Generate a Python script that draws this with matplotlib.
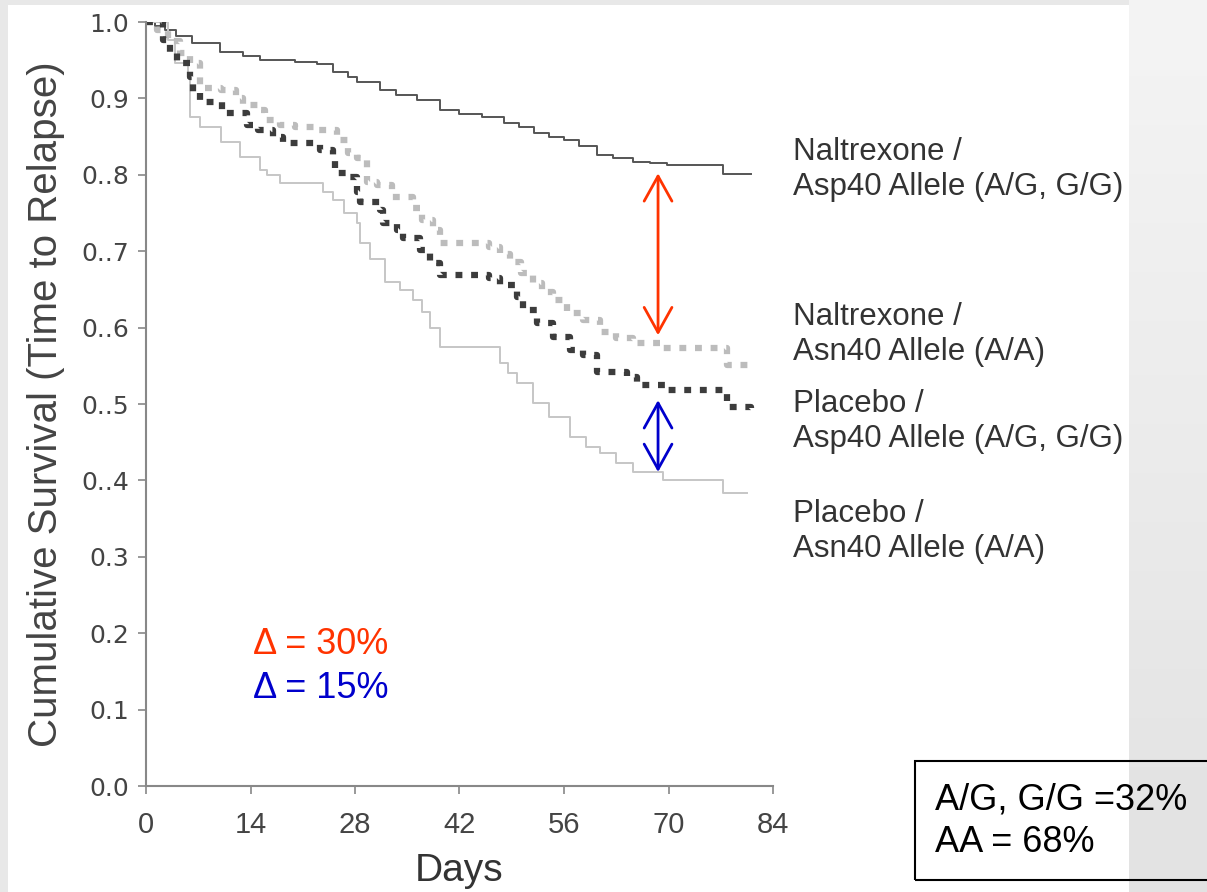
import numpy as np
import matplotlib.pyplot as plt
from matplotlib.patches import Rectangle

# Kaplan-Meier style curves (step change points)
nal_asp_days = [0, 1.2, 2.5, 4, 6.2, 9.9, 13, 15.3, 20, 22.9, 25, 27, 28.3, 31.3, 33.5, 36.3,
                39.4, 42, 45, 48, 50, 52, 54, 56, 58, 60.4, 62.5, 65.2, 67.5, 69.8, 77.3, 81]
nal_asp_surv = [1.0, 0.995, 0.99, 0.982, 0.973, 0.961, 0.955, 0.950, 0.948, 0.945, 0.935, 0.928,
                0.921, 0.911, 0.905, 0.898, 0.885, 0.880, 0.876, 0.868, 0.862, 0.855, 0.850,
                0.846, 0.838, 0.826, 0.822, 0.817, 0.815, 0.813, 0.801, 0.801]

nal_asn_days = [0, 1.5, 3, 4.5, 5.9, 7.2, 10, 12, 13, 15, 16, 18, 20, 23, 25.6, 27, 28.3, 29.6,
                31, 33, 35.8, 37, 38.5, 39.4, 46, 47.4, 48.8, 50.3, 51.8, 53, 54.5, 56.4, 58.5,
                60.8, 63, 65.2, 69.3, 77.8, 81]
nal_asn_surv = [1.0, 0.99, 0.975, 0.96, 0.946, 0.914, 0.911, 0.900, 0.891, 0.885, 0.872, 0.865,
                0.863, 0.859, 0.846, 0.829, 0.822, 0.790, 0.787, 0.771, 0.757, 0.741, 0.728,
                0.711, 0.705, 0.696, 0.686, 0.672, 0.658, 0.646, 0.636, 0.619, 0.610, 0.594,
                0.587, 0.580, 0.573, 0.551, 0.548]

pla_asp_days = [0, 2.3, 3.2, 4.2, 5.9, 6.3, 7.2, 10.2, 13.5, 15, 17, 18.4, 23.3, 25, 25.3, 27.3,
                28.3, 28.7, 31.3, 31.8, 33.6, 34.4, 36.7, 38, 39.4, 46, 47.4, 49.7, 50.5, 52.4,
                54.5, 56.8, 58.5, 60.4, 64.4, 65.8, 69.8, 77.8, 81]
pla_asp_surv = [1.0, 0.976, 0.959, 0.946, 0.928, 0.907, 0.895, 0.881, 0.865, 0.858, 0.849, 0.842,
                0.832, 0.823, 0.802, 0.797, 0.777, 0.764, 0.754, 0.737, 0.728, 0.717, 0.702,
                0.685, 0.669, 0.665, 0.656, 0.640, 0.623, 0.606, 0.588, 0.571, 0.564, 0.542,
                0.535, 0.525, 0.518, 0.496, 0.495]

pla_asn_days = [0, 3, 3.9, 5.6, 5.9, 7.2, 10, 12.6, 15.3, 16.2, 18, 23.7, 25, 26.5, 28.3, 28.7,
                30, 32, 34, 35.8, 37, 38, 39.4, 47.4, 48.5, 49.7, 51.8, 54, 56.8, 59, 60.8, 63,
                65.2, 69.3, 77.3, 80.5]
pla_asn_surv = [1.0, 0.976, 0.946, 0.927, 0.876, 0.863, 0.843, 0.823, 0.806, 0.800, 0.789, 0.777,
                0.767, 0.750, 0.737, 0.711, 0.690, 0.660, 0.649, 0.636, 0.620, 0.600, 0.575,
                0.554, 0.540, 0.527, 0.501, 0.483, 0.457, 0.444, 0.436, 0.423, 0.411, 0.400,
                0.383, 0.383]

x_ticks = [0, 14, 28, 42, 56, 70, 84]
y_ticks = [0.0, 0.1, 0.2, 0.3, 0.4, 0.5, 0.6, 0.7, 0.8, 0.9, 1.0]
y_tick_labels = ['0.0', '0.1', '0.2', '0.3', '0..4', '0..5', '0..6', '0..7', '0..8', '0.9', '1.0']

group_labels = ['Naltrexone /\nAsp40 Allele (A/G, G/G)', 'Naltrexone /\nAsn40 Allele (A/A)',
                'Placebo /\nAsp40 Allele (A/G, G/G)', 'Placebo /\nAsn40 Allele (A/A)']
group_label_y = [0.807, 0.591, 0.477, 0.333]

red_gap = (0.590, 0.802)
blue_gap = (0.411, 0.505)
gap_day = 68.6

sans = ['Liberation Sans', 'DejaVu Sans']

W, H = 1207, 892
fig = plt.figure(figsize=(W / 100, H / 100), dpi=100, facecolor='#e8e8e8')

# slide background: white panel and grey gradient strip on the right
fig.patches.append(Rectangle((8 / W, 0), (1129 - 8) / W, 887 / H, transform=fig.transFigure,
                             facecolor='white', edgecolor='none', zorder=-10))
strip = fig.add_axes([1129 / W, 0, (W - 1129) / W, 1], zorder=-5)
strip.imshow(np.linspace(0.955, 0.885, 200)[:, None], cmap='gray', vmin=0, vmax=1,
             aspect='auto', extent=(0, 1, 0, 1))
strip.axis('off')

ax = fig.add_axes([146 / W, 1 - 786 / H, (773 - 146) / W, (786 - 22) / H])
ax.set_facecolor('none')

ax.step(nal_asp_days, nal_asp_surv, where='post', color='#555555', lw=1.4)
ax.step(pla_asn_days, pla_asn_surv, where='post', color='#c6c6c6', lw=1.4)
ax.step(nal_asn_days, nal_asn_surv, where='post', color='#bcbcbc', lw=4.5,
        linestyle=(0, (1.1, 1.4)))
ax.step(pla_asp_days, pla_asp_surv, where='post', color='#3c3c3c', lw=4.5,
        linestyle=(0, (1.1, 1.4)))

arrow = '<->,head_length=0.9,head_width=0.5'
ax.annotate('', xy=(gap_day, red_gap[1]), xytext=(gap_day, red_gap[0]),
            arrowprops=dict(arrowstyle=arrow, color='#ff3300', lw=2, mutation_scale=20,
                            shrinkA=0, shrinkB=0))
ax.annotate('', xy=(gap_day, blue_gap[1]), xytext=(gap_day, blue_gap[0]),
            arrowprops=dict(arrowstyle=arrow, color='#0000cc', lw=2, mutation_scale=20,
                            shrinkA=0, shrinkB=0))

for lab, yy in zip(group_labels, group_label_y):
    ax.text(86.7, yy, lab, fontsize=22.5, family=sans, color='#333333', va='center',
            ha='left', linespacing=1.25, clip_on=False)

ax.text(14.3, 0.1846, '\u0394 = 30%', fontsize=26, family=sans, color='#ff3300', va='center')
ax.text(14.3, 0.128, '\u0394 = 15%', fontsize=26, family=sans, color='#0000cc', va='center')

ax.set_xlim(0, 84)
ax.set_ylim(0, 1)
ax.set_xticks(x_ticks)
ax.set_yticks(y_ticks)
ax.set_yticklabels(y_tick_labels)
for s in ['top', 'right']:
    ax.spines[s].set_visible(False)
for s in ['left', 'bottom']:
    ax.spines[s].set_color('#888888')
    ax.spines[s].set_linewidth(1.5)
ax.tick_params(axis='both', colors='#888888', length=6, width=1.2)
for t in ax.get_yticklabels():
    t.set_family(['DejaVu Sans'])
    t.set_fontsize(18)
    t.set_color('#444444')
for t in ax.get_xticklabels():
    t.set_family(sans)
    t.set_fontsize(21)
    t.set_color('#444444')
ax.tick_params(axis='y', pad=6)
ax.tick_params(axis='x', pad=12)

ax.set_xlabel('Days', fontsize=28, family=sans, color='#333333', labelpad=10)
ax.set_ylabel('Cumulative Survival (Time to Relapse)', fontsize=29, family=sans,
              color='#444444', labelpad=12)

# composition box, partly running off the slide
fig.patches.append(Rectangle((915 / W, 1 - 880 / H), 400 / W, (880 - 761) / H,
                             transform=fig.transFigure, fill=False, edgecolor='black',
                             lw=1.5, zorder=5))
fig.text(935 / W, 1 - 800 / H, 'A/G, G/G =32%', fontsize=26, family=sans, va='center')
fig.text(935 / W, 1 - 843 / H, 'AA = 68%', fontsize=26, family=sans, va='center')

fig.savefig('out.png', dpi=100, facecolor=fig.get_facecolor())
